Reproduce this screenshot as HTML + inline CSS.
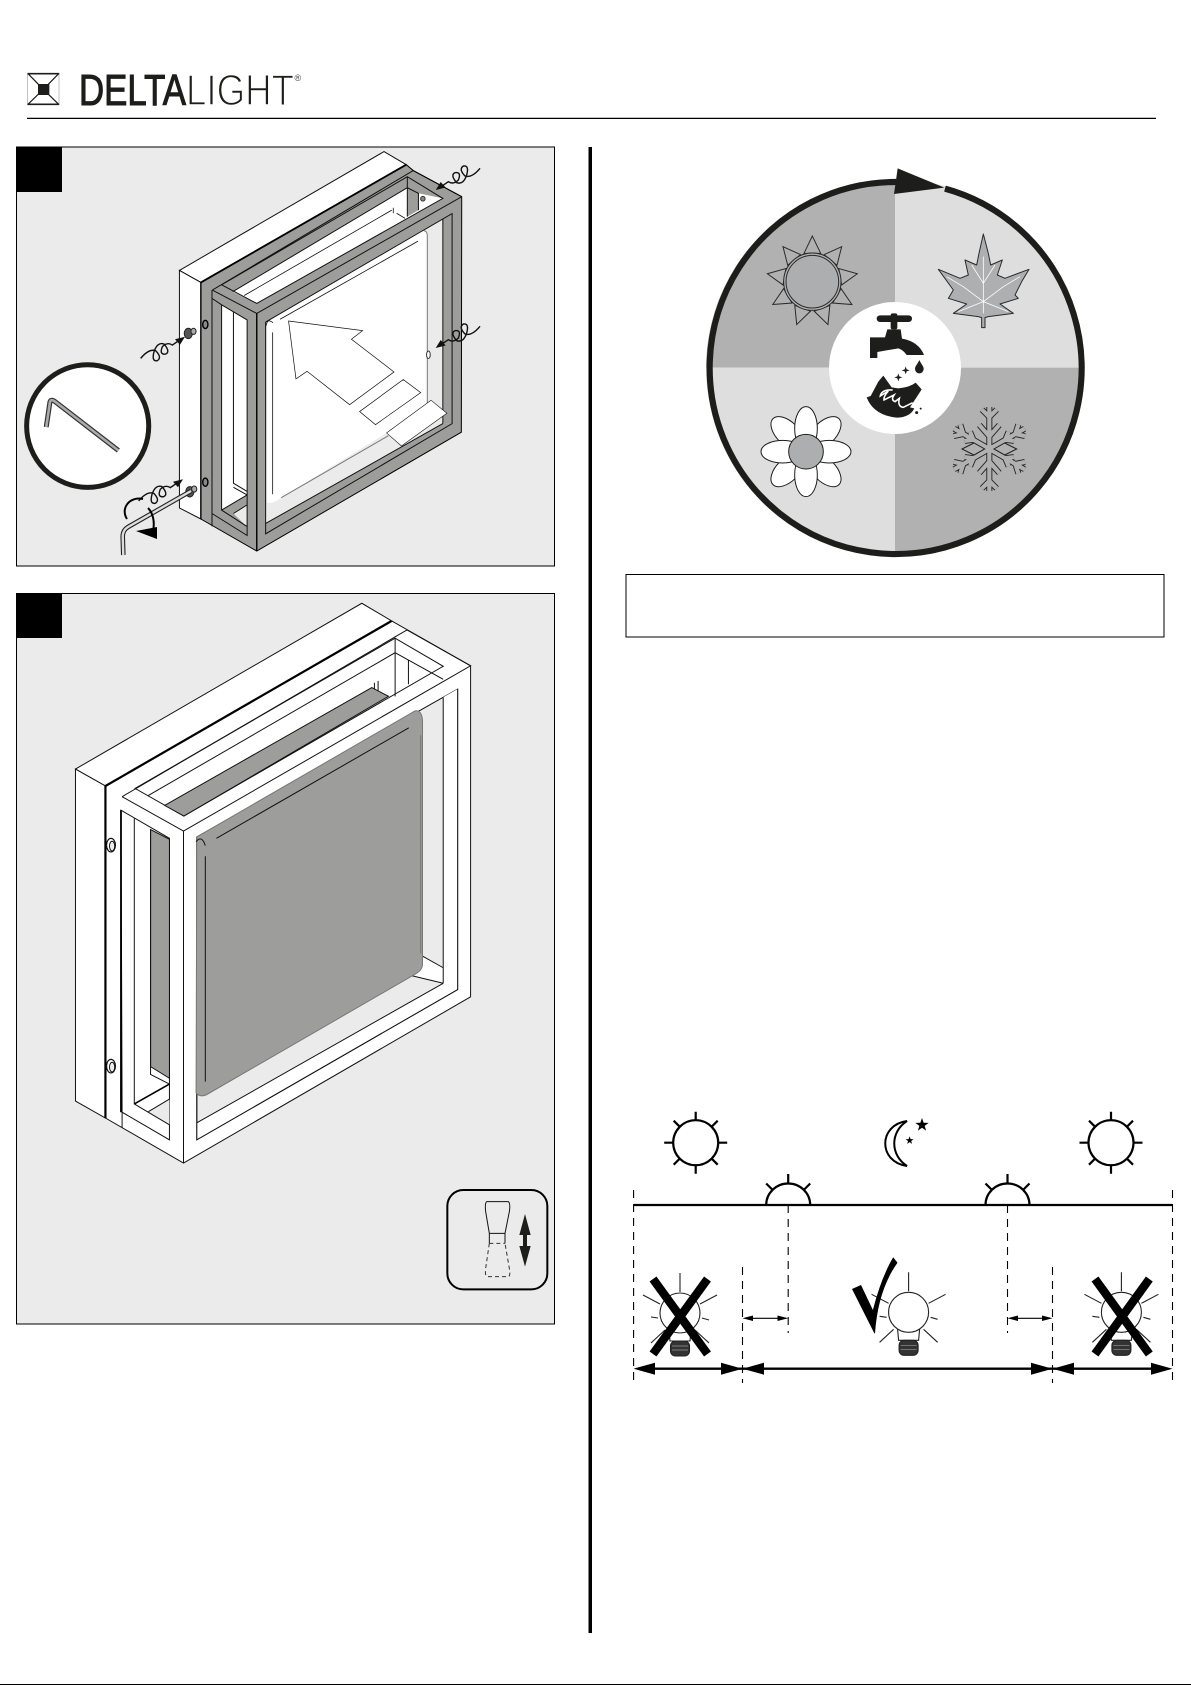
<!DOCTYPE html>
<html><head><meta charset="utf-8"><style>
html,body{margin:0;padding:0;background:#fff;width:1191px;height:1685px;overflow:hidden}
svg{display:block}
svg *{vector-effect:non-scaling-stroke}
</style></head><body>
<svg width="1191" height="1685" viewBox="0 0 1191 1685" xmlns="http://www.w3.org/2000/svg">
<defs>
<g id="coil">
<path transform="scale(.33333) translate(-707,-120)" d="M720,112L745,95Q760,105 775,90Q785,65 765,68Q750,75 770,98Q790,105 800,75Q808,45 790,48Q775,58 795,78Q815,85 840,55" fill="none" stroke="#111" stroke-width="1.4"/>
<polygon points="0,0 10,-2.5 5,-8" fill="#111"/>
</g>
<polygon id="star" points="0,-7 1.65,-2.27 6.66,-2.16 2.66,.87 4.11,5.66 0,2.8 -4.11,5.66 -2.66,.87 -6.66,-2.16 -1.65,-2.27" fill="#000"/>
<g id="fsun" fill="none" stroke="#000" stroke-width="2.2">
<circle r="22.5" fill="#fff"/>
<path d="M0,-22V-31M0,22V31M-22,0H-31.5M22,0H31.5M-15.5,-15.5L-22,-22M15.5,-15.5L22,-22M-15.5,15.5L-22,22M15.5,15.5L22,22"/>
</g>
<g id="hsun" fill="none" stroke="#000" stroke-width="2.2">
<path d="M-22,0A22,21.5 0 0 1 22,0"/>
<path d="M0,-21.5V-31M-15.5,-15L-22,-21.5M15.5,-15L22,-21.5"/>
</g>
<g id="bulb" fill="none" stroke="#222" stroke-width="1.1">
<circle r="20" fill="#fff"/>
<path d="M0,-40V-21M20,-9L37,-18M-20,-9L-37,-18M22,5L29,7M-22,5L-29,4M15,17L29,30M-15,17L-29,30"/>
<path d="M-11,17L-10,28H10L11,17"/>
<rect x="-9.5" y="28" width="19" height="15" rx="5" fill="#333"/>
<path d="M-8,33H8M-8,37H8" stroke="#999" stroke-width=".7"/>
</g>
<path id="armV" d="M0,0V-126M0,-96L-22,-118M0,-96L22,-118M0,-38L-30,-72M0,-38L30,-72" fill="none"/>
<path id="armD" d="M0,0V-122M0,-90L-20,-112M0,-90L20,-112M0,-55L-16,-76M0,-55L16,-76" fill="none"/>
</defs>

<!-- logo -->
<g transform="translate(0,60) scale(.33333)">
<path d="M82,41H178M82,133H178" stroke="#1d1d1b" stroke-width="1.6"/>
<path d="M83,41V133M177,41V133" stroke="#999" stroke-width=".6"/>
<path d="M84,41L130,88L176,41M84,133L130,88L176,133" fill="none" stroke="#1d1d1b" stroke-width="1.2"/>
<rect x="114" y="72" width="34" height="33" fill="#1d1d1b"/>
</g>
<text x="79" y="105" font-family="Liberation Sans, sans-serif" font-size="43.5" fill="#1d1d1b" stroke="#1d1d1b" stroke-width="1.1" textLength="107" lengthAdjust="spacingAndGlyphs">DELTA</text>
<text x="186" y="105" font-family="Liberation Sans, sans-serif" font-size="43.5" fill="#1d1d1b" stroke="#fff" stroke-width="1.4" textLength="108" lengthAdjust="spacingAndGlyphs">LIGHT</text>
<text x="294.5" y="81" font-family="Liberation Sans, sans-serif" font-size="9" fill="#444">®</text>
<line x1="27" y1="118.4" x2="1156" y2="118.4" stroke="#000" stroke-width="1.2"/>

<!-- panel 1 -->
<rect x="16.5" y="147" width="538" height="419" fill="#ebebeb" stroke="#000" stroke-width="1"/>
<rect x="16" y="147" width="46" height="45" fill="#000"/>
<g transform="translate(0,50) scale(.36996,.34435)" stroke="#111" stroke-width="1">
<polygon points="485,640 1038,295 1098,333 543,675" fill="#fff"/>
<polygon points="485,640 543,675 543,1362 485,1330" fill="#fff"/>
<polygon points="543,675 1098,333 1117,350 1247,425 1247,1110 694,1455 543,1362" fill="#9d9d9c" stroke="none"/>
<polygon points="629,702 1101,400 1131,416 1197,431 694,736" fill="#fff" stroke="none"/>
<polygon points="1101,400 1131,416 1131,465 1101,484" fill="#9d9d9c" stroke="none"/>
<path d="M629,702L1101,400M1101,368V484M1101,400L1131,416V465M599,682L1101,368L1197,431L694,736L599,682M574,697L1117,350M574,697L694,765L1248,426M1117,350L1248,426" fill="none"/>
<path d="M660,713L1059,465M1063,458V474M1072,474L1095,489" fill="none" stroke-width=".8"/>
<ellipse cx="1143" cy="432" rx="6" ry="7" fill="#888" stroke="#333"/>
<!-- left face window -->
<polygon points="599,740 668,784 668,1292 599,1336" fill="#fff" stroke="none"/>
<polygon points="631,1346 667,1321 667,1384" fill="#ebebeb" stroke="none"/>
<path d="M574,722L599,740L668,784V1410L573,1346M631,762V1258L668,1282M631,1270L668,1292M599,1336L668,1292M599,740V1336L668,1384M631,1346L668,1321M573,697V1383" fill="none"/>
<line x1="543" y1="675" x2="1098" y2="333" stroke="#000" stroke-width="1.8"/>
<line x1="543" y1="675" x2="543" y2="1362" stroke="#000" stroke-width="1.3"/>
<!-- front window -->
<polygon points="718,790 1222,475 1222,1085 718,1405" fill="#ebebeb" stroke="none"/>
<polygon points="1197,490 1222,475 1222,1085 1197,1085" fill="#9d9d9c" stroke="none"/>
<polygon points="718,1375 1197,1085 1222,1085 718,1405" fill="#9d9d9c" stroke="none"/>
<path d="M718,790L1222,475V1085L718,1405V790M1197,490V1085M718,1375L1197,1085" fill="none"/>
<path d="M722,790L1145,525Q1155,525 1155,540V1040L760,1300Q740,1318 722,1315Z" fill="#fff" stroke="none"/>
<path d="M1145,525Q1155,525 1155,540V1040M760,1300L1050,1120" fill="none" stroke="#777" stroke-width="1"/>
<path d="M737,820V1290M757,782L1130,555M720,800Q722,778 738,792" fill="none" stroke-width=".8"/>
<polygon points="780,787 980,815 950,840 1065,935 945,1030 830,933 800,955" fill="#fff" stroke-width=".7"/>
<polygon points="972,1050 1090,957 1137,995 1015,1088" fill="#fff" stroke-width=".7"/>
<polygon points="1045,1112 1165,1017 1208,1055 1085,1150" fill="#fff" stroke-width=".6"/>
<path d="M694,765V1455" stroke="#000" stroke-width="1.4" fill="none"/>
<polygon points="543,675 1098,333 1117,350 1248,426 1247,1110 694,1455 543,1362" fill="none" stroke="#000" stroke-width="1"/>
<ellipse cx="555" cy="797" rx="7" ry="12" fill="#888" stroke="#000" stroke-width="1.4"/>
<ellipse cx="555" cy="1255" rx="7" ry="12" fill="#888" stroke="#000" stroke-width="1.4"/>
<ellipse cx="1158" cy="885" rx="5" ry="11" fill="#fff" stroke="#333"/>
<!-- hex key in circle -->
<ellipse cx="237" cy="1092" rx="165" ry="178" fill="#fff" stroke="#1d1d1b" stroke-width="5"/>
<path d="M125,1095L135,1022Q138,1012 150,1022L320,1163" fill="none" stroke="#333" stroke-width="5" stroke-linejoin="round"/>
<path d="M125,1095L135,1022Q138,1012 150,1022L320,1163" fill="none" stroke="#aaa" stroke-width="2.6" stroke-linejoin="round"/>
<!-- bolts -->
<ellipse cx="509" cy="823" rx="11" ry="15" fill="#555" stroke="#222"/>
<ellipse cx="523" cy="817" rx="7" ry="9" fill="#aaa" stroke="#222"/>
<ellipse cx="513" cy="1283" rx="11" ry="15" fill="#555" stroke="#222"/>
<ellipse cx="525" cy="1275" rx="7" ry="9" fill="#aaa" stroke="#222"/>
</g>
<use href="#coil" transform="translate(435.7,190)"/>
<use href="#coil" transform="translate(435.7,348)"/>
<use href="#coil" transform="translate(185,336.7) rotate(180)"/>
<use href="#coil" transform="translate(183,479.3) rotate(180)"/>
<!-- wrench and turn arrow -->
<path d="M123.3,555L122.7,536Q123,530 128,527L191,491" fill="none" stroke="#222" stroke-width="4.6" stroke-linejoin="round"/>
<path d="M123.3,555L122.7,536Q123,530 128,527L191,491" fill="none" stroke="#ddd" stroke-width="2.4" stroke-linejoin="round"/>
<path d="M143,499C130,496 120,508 127,519M148,508C153,513 155,522 153,531" fill="none" stroke="#000" stroke-width="2"/>
<polygon points="136,531 157,527 157,539" fill="#000"/>

<!-- panel 2 -->
<rect x="16.5" y="593.5" width="538" height="730.5" fill="#ebebeb" stroke="#000" stroke-width="1"/>
<rect x="16" y="593" width="46" height="45" fill="#000"/>
<g transform="translate(0,580) scale(.36996,.48469)" stroke="#111" stroke-width="1" fill="#fff">
<polygon points="204,390 978,48 1060,85 285,425"/>
<polygon points="204,390 285,425 285,1110 204,1075"/>
<polygon points="285,425 1060,85 1272,177 1272,860 496,1203 285,1110"/>
<polygon points="365,430 1068,120 1198,178 497,487"/>
<polygon points="445,465 1005,222 1050,240 497,487" fill="#9d9d9c"/>
<path d="M1012,212V225M1022,208V228" fill="none"/>
<path d="M400,445L1068,150M1068,120V240M1068,150L1198,205M1104,165V215" fill="none"/>
<path d="M330,447L1100,103L1272,177L496,518L330,447M285,425L1060,85" fill="none"/>
<line x1="285" y1="425" x2="1057" y2="85" stroke="#000" stroke-width="2.2"/>
<line x1="285" y1="425" x2="285" y2="1110" stroke="#000" stroke-width="2.2"/>
<line x1="330" y1="1098" x2="330" y2="1130"/>
<line x1="496" y1="518" x2="496" y2="1203"/>
<!-- left window -->
<polygon points="327,475 458,533 458,1155 330,1098"/>
<polygon points="407,515 458,535 458,1028 407,1004" fill="#9d9d9c"/>
<polygon points="401,1097 458,1071 458,1124" fill="#ebebeb" stroke="none"/>
<path d="M363,492V1081L458,1124M407,515V1020L458,1040M401,1097L458,1071" fill="none"/>
<line x1="363" y1="1081" x2="458" y2="1040" stroke="#000" stroke-width="1.6"/>
<line x1="327" y1="475" x2="327" y2="1098" stroke="#000" stroke-width="1.8"/>
<!-- front window -->
<polygon points="532,530 1237,225 1237,845 532,1155" fill="#ebebeb"/>
<polygon points="1198,242 1237,225 1237,845 1198,832" stroke="none"/>
<polygon points="532,1120 1198,832 1237,845 532,1155" stroke="none"/>
<polygon points="1140,775 1198,800 1198,832 1105,815" stroke="none"/>
<path d="M1237,225V845L532,1155V530M1198,242V832M1140,775L1198,800M1105,815L1198,832M532,1120L1198,832" fill="none"/>
<path d="M532,530L1122,270Q1140,268 1142,290V795Q1140,805 1125,812L558,1062Q540,1068 530,1058Z" fill="#9d9d9c" stroke="#777"/>
<path d="M555,570V1035M585,533L1105,305M530,540Q545,525 555,548" fill="none"/>
<line x1="1137" y1="320" x2="1137" y2="770" stroke="#777"/>
<ellipse cx="300" cy="547" rx="12" ry="14" fill="#fff" stroke-width="1.2"/>
<ellipse cx="303" cy="549" rx="7" ry="10" fill="#eee"/>
<ellipse cx="300" cy="1003" rx="12" ry="14" fill="#fff" stroke-width="1.2"/>
<ellipse cx="303" cy="1005" rx="7" ry="10" fill="#eee"/>
</g>
<!-- adjust icon -->
<g transform="translate(430,1170) scale(.33333)">
<rect x="52" y="60" width="300" height="298" rx="48" fill="#ebebeb" stroke="#000" stroke-width="2"/>
<path d="M170,95H235Q242,100 238,125L225,190H178L167,125Q164,100 170,95ZM178,190V220M225,190V220" fill="none" stroke="#111" stroke-width="1"/>
<path d="M178,220H225M178,220L167,295Q164,318 172,320H235Q242,318 238,295L225,220" fill="none" stroke="#333" stroke-width="1" stroke-dasharray="4 3"/>
<polygon points="285,132 302,195 291,195 291,228 302,228 285,290 268,228 279,228 279,195 268,195" fill="#1d1d1b"/>
</g>

<!-- divider -->
<rect x="588.5" y="147" width="3.5" height="1486" fill="#000"/>

<!-- wheel -->
<g transform="translate(680,150) scale(.33333)">
<path d="M645,653V88A567,567 0 0 0 78,653Z" fill="#b1b1b1"/>
<path d="M645,653H1212A567,567 0 0 0 645,88Z" fill="#dedede"/>
<path d="M645,653H78A567,567 0 0 0 645,1220Z" fill="#dedede"/>
<path d="M645,653V1220A567,567 0 0 0 1212,653Z" fill="#b1b1b1"/>
<path d="M795,116A558,558 0 1 1 648,96" fill="none" stroke="#1d1d1b" stroke-width="6.2"/>
<polygon points="793,113 653,55 642,132" fill="#1d1d1b"/>
<circle cx="645" cy="654" r="198" fill="#fff"/>
<!-- sun -->
<g transform="translate(397,395)" fill="#b1b1b1" stroke="#2a2a2a" stroke-width="1">
<polygon points="0,-137 -25,-85 25,-85"/>
<polygon points="0,-137 -25,-85 25,-85" transform="rotate(40)"/>
<polygon points="0,-137 -25,-85 25,-85" transform="rotate(80)"/>
<polygon points="0,-137 -25,-85 25,-85" transform="rotate(120)"/>
<polygon points="0,-137 -25,-85 25,-85" transform="rotate(160)"/>
<polygon points="0,-137 -25,-85 25,-85" transform="rotate(200)"/>
<polygon points="0,-137 -25,-85 25,-85" transform="rotate(240)"/>
<polygon points="0,-137 -25,-85 25,-85" transform="rotate(280)"/>
<polygon points="0,-137 -25,-85 25,-85" transform="rotate(320)"/>
<circle r="86" fill="#b1b1b1"/>
<circle r="79" fill="#adaeb0"/>
</g>
<!-- leaf -->
<polygon points="910,252 925,310 932,345 967,330 952,375 975,385 1047,358 1025,395 1005,435 1015,445 960,462 1000,490 925,500 915,503 915,533 905,533 905,503 895,500 820,490 860,462 805,445 820,420 775,358 840,385 865,375 855,330 890,345 897,310" fill="#aeafb1" stroke="#2a2a2a" stroke-width="1" stroke-linejoin="round"/>
<path d="M910,320V490M910,455L850,410L800,380M910,455L970,410L1020,380M910,400L875,345M910,400L945,345M910,455L835,485M910,455L985,485" fill="none" stroke="#fff" stroke-width=".8"/>
<!-- flower -->
<g transform="translate(378,905)" fill="#fff" stroke="#1d1d1b" stroke-width="1">
<ellipse cy="-78" rx="34" ry="62" transform="rotate(45)"/>
<ellipse cy="-78" rx="34" ry="62" transform="rotate(135)"/>
<ellipse cy="-78" rx="34" ry="62" transform="rotate(225)"/>
<ellipse cy="-78" rx="34" ry="62" transform="rotate(315)"/>
<ellipse cy="-70" rx="34" ry="65"/>
<ellipse cy="-70" rx="34" ry="65" transform="rotate(90)"/>
<ellipse cy="-70" rx="34" ry="65" transform="rotate(180)"/>
<ellipse cy="-70" rx="34" ry="65" transform="rotate(270)"/>
<circle r="52" fill="#adaeb0"/>
</g>
<!-- snowflake -->
<g transform="translate(928,897)" stroke="#222" stroke-width="6">
<use href="#armV"/><use href="#armD" transform="rotate(60)"/><use href="#armD" transform="rotate(120)"/><use href="#armV" transform="rotate(180)"/><use href="#armD" transform="rotate(240)"/><use href="#armD" transform="rotate(300)"/>
</g>
<g transform="translate(928,897)" stroke="#b1b1b1" stroke-width="4.2">
<use href="#armV"/><use href="#armD" transform="rotate(60)"/><use href="#armD" transform="rotate(120)"/><use href="#armV" transform="rotate(180)"/><use href="#armD" transform="rotate(240)"/><use href="#armD" transform="rotate(300)"/>
</g>
<g transform="translate(928,897)" fill="#b1b1b1" stroke="#222" stroke-width="1">
<polygon points="-82,0 -46,-18 -14,0 -46,18"/>
<polygon points="82,0 46,-18 14,0 46,18"/>
</g>
</g>
<!-- faucet & hand -->
<g transform="translate(820,300) scale(.33333)" fill="#1d1d1b">
<rect x="170" y="46" width="106" height="20" rx="10"/>
<rect x="212" y="40" width="20" height="48" rx="6"/>
<path d="M150,112H195L202,88H242L246,116Q296,125 312,165H260Q250,150 235,145L195,152L172,156V174H150Z"/>
<path d="M298,180C303,192 311,198 311,207A13,13 0 0 1 285,207C285,198 293,192 298,180Z"/>
<path d="M257,199L260,208L269,211L260,214L257,223L254,214L245,211L254,208Z"/>
<path d="M235,220L238,229L247,232L238,235L235,244L232,235L223,232L232,229Z"/>
<path d="M190,227L175,245L152,288L140,292Q160,345 230,353Q270,352 283,325L270,322L305,268L287,248Q270,262 235,265L215,262Z"/>
<path d="M218,270Q185,268 181,288L205,273Q190,290 192,300L222,285Q212,300 225,305L238,295Q232,320 250,322L278,308" fill="none" stroke="#fff" stroke-width="1.6"/>
<circle cx="290" cy="338" r="4.5"/><circle cx="302" cy="326" r="3"/>
</g>
<!-- box -->
<rect x="626" y="574.5" width="538" height="62.5" fill="#fff" stroke="#000" stroke-width="1"/>

<!-- day/night -->
<use href="#fsun" x="695.7" y="1142.7"/>
<use href="#fsun" x="1111" y="1142.7"/>
<path d="M907,1121C878,1125 878,1162 907,1166C890,1155 890,1132 907,1121Z" fill="#fff" stroke="#000" stroke-width="2"/>
<use href="#star" transform="translate(922,1125)"/>
<use href="#star" transform="translate(909.6,1140.5) scale(.6)"/>
<use href="#hsun" x="788.2" y="1205"/>
<use href="#hsun" x="1007.5" y="1205"/>
<line x1="633.6" y1="1205" x2="1172.5" y2="1205" stroke="#000" stroke-width="2.2"/>
<g stroke="#000" stroke-width="1.1" stroke-dasharray="8 6" fill="none">
<path d="M633.6,1190V1383M1172.5,1190V1383M788.2,1205V1333M1007.5,1205V1333M742.5,1267V1383M1052.5,1267V1383"/>
</g>
<use href="#bulb" x="680" y="1313"/>
<use href="#bulb" x="908.6" y="1312.3"/>
<use href="#bulb" x="1121.4" y="1312.3"/>
<g stroke="#000" stroke-width="8.5" fill="none">
<path d="M653,1279L707.5,1354M707.5,1279L653,1354"/>
<path d="M1095,1279L1149.3,1354M1149.3,1279L1095,1354"/>
</g>
<path d="M852,1289L861,1285L872.9,1310Q881,1278 893.2,1257.3L897.5,1262.7Q878,1290 875,1333.3H874.3Z" fill="#000"/>
<g fill="#000" stroke="#000">
<line x1="745" y1="1318.3" x2="786" y2="1318.3" stroke-width="1.2"/>
<polygon points="742.5,1318.3 753,1315.5 753,1321" stroke="none"/>
<polygon points="788.2,1318.3 777.5,1315.5 777.5,1321" stroke="none"/>
<line x1="1010" y1="1318.3" x2="1050" y2="1318.3" stroke-width="1.2"/>
<polygon points="1007.5,1318.3 1018,1315.5 1018,1321" stroke="none"/>
<polygon points="1052.5,1318.3 1042,1315.5 1042,1321" stroke="none"/>
<line x1="640" y1="1368.7" x2="1166" y2="1368.7" stroke-width="2.4"/>
<polygon points="633.6,1368.7 655,1362.7 655,1374.7" stroke="none"/>
<polygon points="742.5,1368.7 721,1362.7 721,1374.7" stroke="none"/>
<polygon points="742.5,1368.7 764,1362.7 764,1374.7" stroke="none"/>
<polygon points="1052.5,1368.7 1031,1362.7 1031,1374.7" stroke="none"/>
<polygon points="1052.5,1368.7 1074,1362.7 1074,1374.7" stroke="none"/>
<polygon points="1172.5,1368.7 1151,1362.7 1151,1374.7" stroke="none"/>
</g>
<rect x="0" y="1684" width="1191" height="1" fill="#000"/>
</svg>
</body></html>
